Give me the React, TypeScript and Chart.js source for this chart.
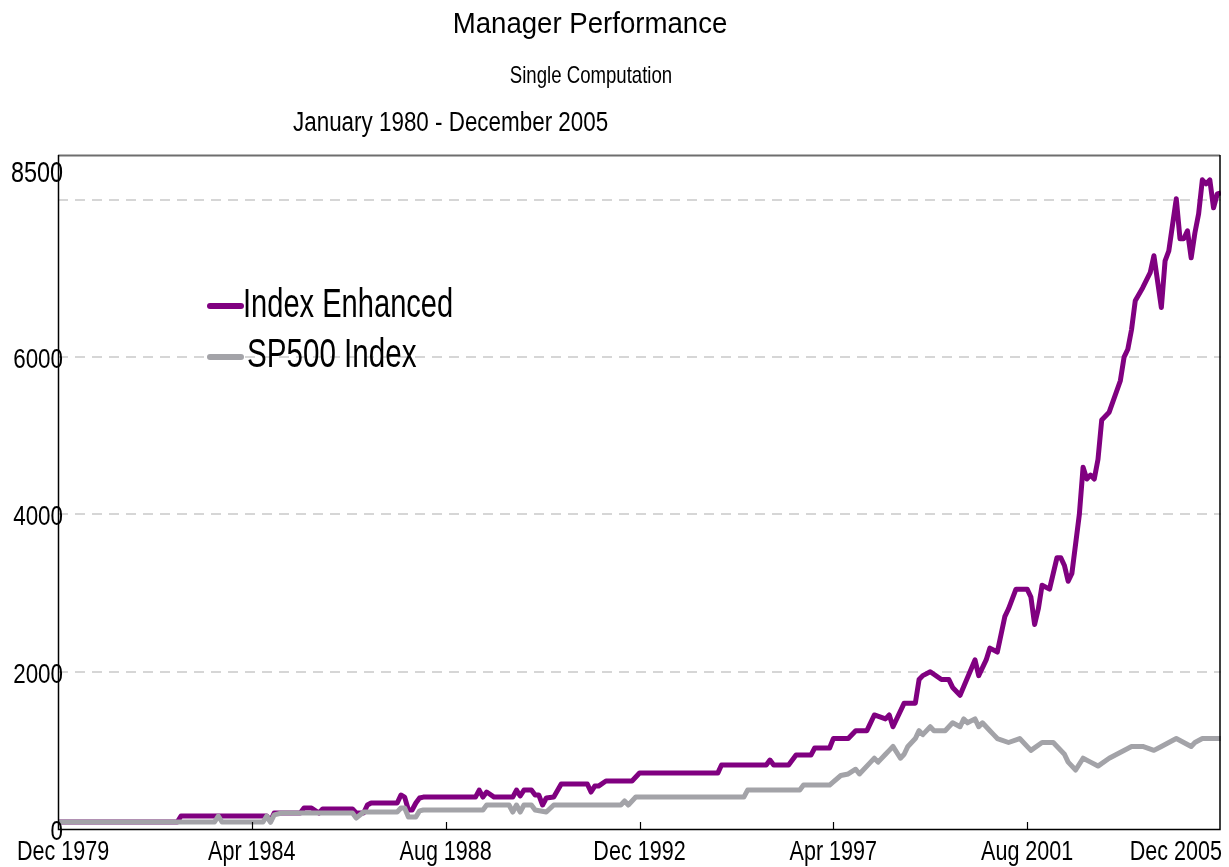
import React, { useEffect, useRef } from 'react';
import { Chart, registerables } from 'chart.js';

Chart.register(...registerables);

const FONT = '"Liberation Sans", Arial, Helvetica, sans-serif';

// ---- text ----
const titleText = 'Manager Performance';
const subtitleText = 'Single Computation';
const periodText = 'January 1980 - December 2005';
const seriesNames = ['Index Enhanced', 'SP500 Index'];

// ---- axes ----
const xTickMonths = [0, 52, 104, 156, 208, 260, 312];
const xTickLabels = ['Dec 1979', 'Apr 1984', 'Aug 1988', 'Dec 1992', 'Apr 1997', 'Aug 2001', 'Dec 2005'];
const yGridValues = [0, 2000, 4000, 6000, 8000];
const yLabelValues = [0, 2000, 4000, 6000];
const yTopLabel = '8500';
const yMax = 8570;
const monthCount = 312;

// ---- series: month index (0 = Dec 1979) and value ----
const enhancedMonths = [0,32,33,56,57,58,65,66,68,70,71,79,80,82,83,84,91,92,93,94,95,96,97,98,112,113,114,115,117,122,123,124,125,127,128,129,130,131,133,135,142,143,144,145,147,154,156,177,178,190,191,192,196,198,202,203,207,208,212,214,217,219,222,223,224,227,230,231,232,234,237,239,240,242,246,247,249,250,252,254,255,257,260,261,262,263,264,266,267,268,269,270,271,272,274,275,276,277,278,279,280,282,285,286,287,288,289,291,293,294,296,297,298,300,301,302,303,304,305,306,307,308,309,310,311,312];
const enhancedValues = [89,89,165,165,100,203,203,267,267,203,254,254,203,203,305,330,330,432,406,241,241,330,394,406,406,495,406,470,406,406,495,420,495,495,432,432,305,394,406,572,572,470,546,546,610,610,711,711,813,813,876,813,813,940,940,1030,1030,1150,1150,1250,1250,1450,1400,1450,1300,1600,1600,1900,1950,2000,1900,1900,1800,1700,2150,1950,2150,2300,2250,2700,2800,3050,3050,2950,2600,2800,3100,3050,3250,3450,3450,3350,3150,3250,4000,4600,4450,4500,4450,4700,5200,5300,5700,6000,6100,6350,6717,6883,7073,7290,6630,7225,7350,8013,7505,7505,7606,7263,7580,7822,8254,8203,8254,7898,8076,8089];

const spMonths = [0,42,43,44,55,56,57,58,60,79,80,82,91,92,93,94,96,97,98,114,115,121,122,123,124,125,127,128,131,133,151,152,153,155,184,185,199,200,207,208,210,212,214,215,218,219,220,222,223,224,226,227,228,230,231,232,234,235,238,239,240,242,243,244,246,247,248,250,251,252,255,258,261,264,267,270,271,273,275,277,279,282,288,291,294,296,300,302,304,305,307,312];
const spValues = [89,89,165,89,89,165,85,180,203,203,140,216,216,267,267,152,152,230,241,241,305,305,216,305,216,305,305,241,216,305,305,356,305,406,406,495,495,559,559,600,680,700,760,700,850,900,850,950,1000,1050,900,950,1050,1150,1250,1200,1300,1250,1250,1300,1350,1300,1400,1350,1400,1300,1350,1250,1200,1150,1100,1150,1000,1100,1100,950,850,750,900,850,800,900,1050,1050,1000,1050,1150,1100,1050,1100,1150,1150];

const PURPLE = '#800080';
const GRAY = '#a3a3a8';

function drawText(ctx: CanvasRenderingContext2D, text: string, x: number, y: number, size: number, sx: number, align: CanvasTextAlign) {
  ctx.save();
  ctx.font = `${size}px ${FONT}`;
  ctx.fillStyle = '#000';
  ctx.textBaseline = 'alphabetic';
  ctx.textAlign = align;
  ctx.translate(x, y);
  ctx.scale(sx, 1);
  ctx.fillText(text, 0, 0);
  ctx.restore();
}

const decorPlugin = {
  id: 'decor',
  afterDraw(chart: any) {
    const ctx: CanvasRenderingContext2D = chart.ctx;
    const { left, right, top, bottom } = chart.chartArea;
    const xs = chart.scales.x;
    const ys = chart.scales.y;

    // frame
    ctx.save();
    ctx.strokeStyle = '#6e6e6e';
    ctx.lineWidth = 2;
    ctx.beginPath();
    ctx.moveTo(left, top + 0.5);
    ctx.lineTo(right - 1, top + 0.5);
    ctx.stroke();
    ctx.strokeStyle = '#000';
    ctx.lineWidth = 1.5;
    ctx.beginPath();
    ctx.moveTo(left + 0.5, top);
    ctx.lineTo(left + 0.5, bottom + 0.5);
    ctx.lineTo(right - 1, bottom + 0.5);
    ctx.lineTo(right - 1, top);
    ctx.stroke();
    // x tick marks (inside)
    ctx.lineWidth = 1.2;
    xTickMonths.forEach((m, i) => {
      if (i === 0 || i === xTickMonths.length - 1) return;
      const px = Math.round(xs.getPixelForValue(m)) + 0.5;
      ctx.beginPath();
      ctx.moveTo(px, bottom);
      ctx.lineTo(px, bottom - 7);
      ctx.stroke();
    });
    ctx.restore();

    // x labels
    xTickMonths.forEach((m, i) => {
      const px = xs.getPixelForValue(m);
      if (i === 0) drawText(ctx, xTickLabels[i], 17, 860, 28, 0.77, 'left');
      else if (i === xTickMonths.length - 1) drawText(ctx, xTickLabels[i], right + 1, 860, 28, 0.77, 'right');
      else drawText(ctx, xTickLabels[i], px, 860, 28, 0.77, 'center');
    });

    // y labels
    yLabelValues.forEach((v) => {
      const py = ys.getPixelForValue(v);
      drawText(ctx, String(v), 63, py + 11, 28, 0.8, 'right');
    });
    drawText(ctx, yTopLabel, 63, top + 27, 30, 0.78, 'right');

    // titles
    drawText(ctx, titleText, 590, 33, 30, 0.92, 'center');
    drawText(ctx, subtitleText, 591, 83, 24, 0.775, 'center');
    drawText(ctx, periodText, 293, 131, 27, 0.83, 'left');

    // legend
    const colors = [PURPLE, GRAY];
    const lineY = [306, 357];
    const textY = [317, 367];
    const textX = [243, 247];
    const fits = [0.727, 0.74];
    seriesNames.forEach((name, i) => {
      ctx.save();
      ctx.strokeStyle = colors[i];
      ctx.lineWidth = 6;
      ctx.lineCap = 'round';
      ctx.beginPath();
      ctx.moveTo(210, lineY[i]);
      ctx.lineTo(241, lineY[i]);
      ctx.stroke();
      ctx.restore();
      drawText(ctx, name, textX[i], textY[i], 40, fits[i], 'left');
    });
  },
};

export default function App() {
  const ref = useRef<HTMLCanvasElement>(null);
  useEffect(() => {
    const canvas = ref.current;
    if (!canvas) return;
    const chart = new Chart(canvas, {
      type: 'line',
      data: {
        datasets: [
          {
            label: seriesNames[0],
            data: enhancedMonths.map((m, i) => ({ x: m, y: enhancedValues[i] })),
            borderColor: PURPLE,
            backgroundColor: PURPLE,
            borderWidth: 5,
            pointRadius: 0,
            tension: 0,
            fill: false,
            order: 1,
            borderJoinStyle: 'round',
          },
          {
            label: seriesNames[1],
            data: spMonths.map((m, i) => ({ x: m, y: spValues[i] })),
            borderColor: GRAY,
            backgroundColor: GRAY,
            borderWidth: 5,
            pointRadius: 0,
            tension: 0,
            fill: false,
            order: 0,
            borderJoinStyle: 'round',
          },
        ],
      },
      options: {
        responsive: false,
        animation: false,
        devicePixelRatio: 1,
        layout: { padding: { top: 155, left: 58, right: 8, bottom: 38 } },
        plugins: {
          legend: { display: false },
          tooltip: { enabled: false },
          title: { display: false },
        },
        scales: {
          x: { type: 'linear', min: 0, max: monthCount, display: false },
          y: {
            type: 'linear',
            min: 0,
            max: yMax,
            display: true,
            afterFit: (s: any) => { s.width = 0; },
            afterBuildTicks: (s: any) => { s.ticks = yGridValues.map((v) => ({ value: v })); },
            ticks: { display: false },
            grid: {
              drawTicks: false,
              lineWidth: 2,
              color: (c: any) => (c.tick && c.tick.value === 0 ? 'rgba(0,0,0,0)' : '#d6d6d6'),
            },
            border: { display: false, dash: [10, 7] },
          },
        },
      } as any,
      plugins: [decorPlugin],
    });
    return () => chart.destroy();
  }, []);
  return (
    <div style={{ position: 'fixed', left: 0, top: 0, width: 1229, height: 867, background: '#fff' }}>
      <canvas ref={ref} width={1229} height={867} style={{ display: 'block' }} />
    </div>
  );
}
